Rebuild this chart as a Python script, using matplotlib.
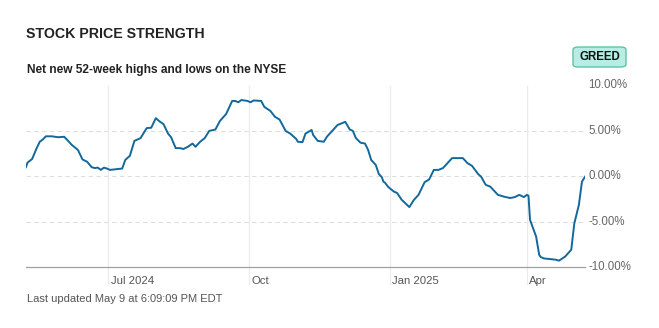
import numpy as np
import pandas as pd
import matplotlib
matplotlib.use('Agg')
import matplotlib.pyplot as plt
import matplotlib.dates as mdates
from matplotlib.patches import FancyBboxPatch

plt.rcParams['font.family'] = ['Liberation Sans', 'DejaVu Sans']

# net new 52-week highs minus lows, % of NYSE issues
dates = [
	'2024-05-08', '2024-05-09', '2024-05-12', '2024-05-15', '2024-05-17', '2024-05-19',
	'2024-05-21', '2024-05-25', '2024-05-29', '2024-06-02', '2024-06-04', '2024-06-07',
	'2024-06-11', '2024-06-14', '2024-06-17', '2024-06-20', '2024-06-22', '2024-06-24',
	'2024-06-26', '2024-06-28', '2024-06-30', '2024-07-02', '2024-07-10', '2024-07-12',
	'2024-07-15', '2024-07-18', '2024-07-22', '2024-07-26', '2024-07-29', '2024-08-01',
	'2024-08-03', '2024-08-06', '2024-08-09', '2024-08-11', '2024-08-14', '2024-08-17',
	'2024-08-19', '2024-08-22', '2024-08-25', '2024-08-27', '2024-08-30', '2024-09-02',
	'2024-09-05', '2024-09-09', '2024-09-12', '2024-09-16', '2024-09-20', '2024-09-22',
	'2024-09-24', '2024-09-26', '2024-09-30', '2024-10-02', '2024-10-04', '2024-10-09',
	'2024-10-11', '2024-10-15', '2024-10-18', '2024-10-21', '2024-10-25', '2024-10-28',
	'2024-11-01', '2024-11-02', '2024-11-05', '2024-11-07', '2024-11-11', '2024-11-12',
	'2024-11-15', '2024-11-19', '2024-11-21', '2024-11-25', '2024-11-28', '2024-12-01',
	'2024-12-03', '2024-12-06', '2024-12-08', '2024-12-10', '2024-12-13', '2024-12-16',
	'2024-12-18', '2024-12-20', '2024-12-23', '2024-12-25', '2024-12-27', '2024-12-28',
	'2024-12-29', '2024-12-31', '2025-01-01', '2025-01-04', '2025-01-06', '2025-01-09',
	'2025-01-14', '2025-01-17', '2025-01-20', '2025-01-24', '2025-01-27', '2025-01-30',
	'2025-02-02', '2025-02-05', '2025-02-08', '2025-02-11', '2025-02-16', '2025-02-18',
	'2025-02-21', '2025-02-24', '2025-02-28', '2025-03-02', '2025-03-05', '2025-03-08',
	'2025-03-13', '2025-03-17', '2025-03-21', '2025-03-24', '2025-03-27', '2025-03-30',
	'2025-04-01', '2025-04-02', '2025-04-03', '2025-04-07', '2025-04-09', '2025-04-10',
	'2025-04-12', '2025-04-17', '2025-04-20', '2025-04-22', '2025-04-26', '2025-04-30',
	'2025-05-02', '2025-05-05', '2025-05-07', '2025-05-09',
]
values = [
	1.0, 1.5, 1.9, 3.1, 3.8, 4.05,
	4.4, 4.4, 4.3, 4.35, 4.0, 3.45,
	2.9, 1.85, 1.6, 1.0, 0.9, 0.95,
	0.7, 0.95, 0.85, 0.7, 0.85, 1.8,
	2.25, 3.9, 4.2, 5.3, 5.35, 6.4,
	6.1, 5.75, 4.7, 4.3, 3.1, 3.1,
	3.0, 3.25, 3.6, 3.25, 3.8, 4.2,
	5.0, 5.15, 6.1, 6.85, 8.3, 8.3,
	8.15, 8.4, 8.3, 8.15, 8.35, 8.3,
	7.65, 7.2, 6.55, 6.25, 5.0, 4.7,
	4.1, 3.8, 3.75, 4.7, 5.1, 4.55,
	3.9, 3.8, 4.35, 5.1, 5.65, 5.85,
	6.0, 5.15, 5.0, 4.2, 3.7, 3.6,
	2.9, 1.8, 1.25, 0.25, -0.1, -0.6,
	-0.7, -1.15, -1.3, -1.7, -1.85, -2.6,
	-3.4, -2.6, -2.05, -0.65, -0.35, 0.7,
	0.7, 0.9, 1.45, 2.0, 2.0, 2.0,
	1.45, 1.15, 0.25, -0.05, -0.95, -1.15,
	-2.05, -2.25, -2.4, -2.3, -2.05, -2.3,
	-2.05, -2.15, -4.8, -6.65, -8.65, -8.9,
	-9.05, -9.15, -9.2, -9.3, -8.85, -8.1,
	-5.2, -3.15, -0.6, -0.05,
]

y_ticks = [10, 5, 0, -5, -10]
x_ticks = ['2024-07-01', '2024-10-01', '2025-01-01', '2025-04-01']
x_labels = ['Jul 2024', 'Oct', 'Jan 2025', 'Apr']

W, H = 659, 328
LINE = '#12689b'
HGRID = '#dedede'
VGRID = '#ebebeb'

dates = pd.to_datetime(dates)

fig = plt.figure(figsize=(W / 100, H / 100), dpi=100)
fig.patch.set_facecolor('white')

# axes box in pixels: x 26..585, y 85.5..267
ax = fig.add_axes([26 / W, 1 - 267 / H, (585 - 26) / W, (267 - 85.5) / H])
ax.set_xlim(dates[0], dates[-1])
ax.set_ylim(-10, 10)

for s in ['top', 'right', 'left']:
	ax.spines[s].set_visible(False)
ax.spines['bottom'].set_color('#a0a0a0')
ax.spines['bottom'].set_linewidth(0.9)
ax.set_xticks([])
ax.set_yticks([])

# dashed horizontal grid + right hand labels
for v in y_ticks:
	if v > -10:
		ax.axhline(v, color=HGRID, lw=0.8, ls=(0, (4, 3)), zorder=1)
	ax.text(1.006, (v + 10) / 20, f'{v:.2f}%', transform=ax.transAxes,
			ha='left', va='center', fontsize=8.3, color='#666666')

# vertical month lines running down past the axis to the labels
drop = (284 - 267) / (267 - 85.5)
for d, lab in zip(pd.to_datetime(x_ticks), x_labels):
	ax.axvline(d, ymin=-drop, ymax=1, color=VGRID, lw=0.9, zorder=1, clip_on=False)
	ax.annotate(lab, xy=(mdates.date2num(d), 0), xycoords=('data', 'axes fraction'),
				xytext=(2.5, -13.5), textcoords='offset pixels',
				ha='left', va='center', fontsize=8.2, color='#555555')

ax.plot(dates, values, color=LINE, lw=1.4, zorder=3, solid_joinstyle='round')

# header
fig.text(26 / W, 1 - 34 / H, 'STOCK PRICE STRENGTH', fontsize=10.2,
		 fontweight='bold', color='#222222', ha='left', va='center')
fig.text(27 / W, 1 - 70.5 / H, 'Net new 52-week highs and lows on the NYSE',
		 fontsize=8.6, fontweight='bold', color='#222222', ha='left', va='center')

# sentiment badge
badge = FancyBboxPatch((573 / W, 1 - 67 / H), 53 / W, 20 / H,
					   boxstyle='round,pad=0,rounding_size=0.008',
					   transform=fig.transFigure, fc='#b8ede6', ec='#62c3a2', lw=1.0)
fig.patches.append(badge)
fig.text(599.5 / W, 1 - 57 / H, 'GREED', fontsize=8.3, fontweight='bold',
		 color='#111111', ha='center', va='center')

fig.text(27 / W, 1 - 299 / H, 'Last updated May 9 at 6:09:09 PM EDT',
		 fontsize=8.0, color='#555555', ha='left', va='center')

fig.savefig('out.png', dpi=100, facecolor='white')
